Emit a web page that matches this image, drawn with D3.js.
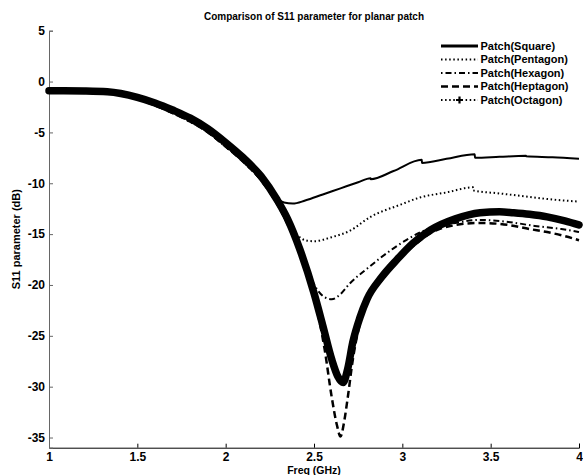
<!DOCTYPE html>
<html>
<head>
<meta charset="utf-8">
<script src="https://cdn.jsdelivr.net/npm/d3@7"></script>
<style>
  html, body { margin: 0; padding: 0; background: #fff; }
  svg { display: block; font-family: "Liberation Sans", Arial, sans-serif; }
</style>
</head>
<body>
<svg id="chart" width="583" height="475"></svg>
<script>
// ---------------- data ----------------
const seriesNames = ["Patch(Square)", "Patch(Pentagon)", "Patch(Hexagon)", "Patch(Heptagon)", "Patch(Octagon)"];

const squareF  = [1.0,1.2,1.33,1.5,1.6,1.7,1.8,1.9,2.0,2.1,2.2,2.29,2.33,2.38,2.45,2.55,2.65,2.75,2.82,2.821,2.95,3.11,3.111,3.25,3.41,3.411,3.55,3.7,3.701,3.85,4.0];
const squareDb = [-0.9,-0.93,-1.0,-1.55,-2.1,-2.8,-3.6,-4.65,-6.0,-7.5,-9.3,-11.5,-11.9,-12.0,-11.7,-11.1,-10.5,-9.9,-9.5,-9.6,-8.8,-7.7,-8.0,-7.6,-7.15,-7.5,-7.4,-7.3,-7.35,-7.45,-7.6];

const pentagonF  = [1.0,1.2,1.33,1.5,1.6,1.7,1.8,1.9,2.0,2.1,2.2,2.29,2.35,2.4,2.45,2.5,2.6,2.7,2.82,2.99,3.1,3.25,3.4,3.401,3.55,3.7,3.85,4.0];
const pentagonDb = [-0.9,-0.95,-1.05,-1.7,-2.35,-3.1,-3.95,-5.0,-6.4,-7.9,-9.7,-12.0,-13.9,-15.0,-15.6,-15.7,-15.3,-14.7,-13.3,-12.1,-11.4,-10.9,-10.4,-10.7,-11.0,-11.3,-11.6,-11.8];

const hexagonF  = [1.0,1.2,1.33,1.5,1.6,1.7,1.8,1.9,2.0,2.1,2.2,2.29,2.35,2.42,2.47,2.52,2.56,2.6,2.65,2.7,2.8,2.95,3.05,3.16,3.3,3.44,3.6,3.75,3.9,4.0];
const hexagonDb = [-0.9,-0.95,-1.05,-1.7,-2.35,-3.1,-3.95,-5.0,-6.4,-7.9,-9.7,-12.0,-14.0,-16.9,-18.9,-20.5,-21.2,-21.4,-20.9,-19.9,-18.4,-16.4,-15.3,-14.4,-13.9,-13.6,-13.8,-14.2,-14.5,-14.8];

const heptagonF  = [1.0,1.2,1.33,1.5,1.6,1.7,1.8,1.9,2.0,2.1,2.2,2.29,2.35,2.42,2.5,2.56,2.6,2.63,2.65,2.67,2.69,2.72,2.76,2.8,2.88,2.97,3.06,3.16,3.3,3.44,3.6,3.72,3.82,3.92,4.0];
const heptagonDb = [-0.9,-0.95,-1.05,-1.7,-2.35,-3.1,-3.95,-5.0,-6.4,-7.9,-9.7,-12.0,-14.0,-16.9,-21.2,-26.3,-31.0,-33.8,-34.9,-33.5,-31.2,-27.3,-23.8,-21.7,-19.6,-17.7,-16.2,-14.9,-14.1,-13.9,-14.1,-14.5,-14.8,-15.2,-15.6];

const octagonF  = [1.0,1.2,1.33,1.5,1.6,1.7,1.8,1.9,2.0,2.1,2.2,2.29,2.35,2.42,2.5,2.55,2.6,2.635,2.665,2.69,2.72,2.76,2.8,2.88,2.97,3.06,3.16,3.3,3.44,3.55,3.63,3.72,3.82,3.92,4.0];
const octagonDb = [-0.9,-0.93,-1.0,-1.55,-2.1,-2.8,-3.6,-4.65,-6.0,-7.5,-9.3,-11.6,-13.5,-16.5,-20.8,-24.0,-27.3,-29.0,-29.6,-28.3,-25.6,-23.2,-21.4,-19.3,-17.5,-15.9,-14.6,-13.5,-12.9,-12.8,-12.9,-13.05,-13.3,-13.7,-14.1];

const xTicks = [1, 1.5, 2, 2.5, 3, 3.5, 4];
const yTicks = [5, 0, -5, -10, -15, -20, -25, -30, -35];

const titleText = "Comparison of S11 parameter for planar patch";
const xLabel = "Freq (GHz)";
const yLabel = "S11 parameter (dB)";

// ---------------- layout ----------------
const svg = d3.select("#chart");
const mLeft = 49, mRight = 579, mTop = 30.7, mBottom = 447.7;

const x = d3.scaleLinear().domain([1, 4]).range([mLeft, mRight]);
const y = d3.scaleLinear().domain([-36, 5]).range([mBottom, mTop]);

// axes
const xAxis = d3.axisBottom(x).tickValues(xTicks).tickSize(-4).tickPadding(5)
  .tickFormat(d => String(d));
const gx = svg.append("g").attr("transform", `translate(0,${mBottom})`).call(xAxis);
gx.select(".domain").attr("stroke", "#000");
gx.selectAll(".tick line").attr("stroke", "#000");
gx.selectAll("text").attr("font-size", 12).attr("font-weight", "bold").attr("fill", "#000")
  .attr("font-family", "Liberation Sans, Arial, sans-serif");

const yAxis = d3.axisLeft(y).tickValues(yTicks).tickSize(-4).tickPadding(4)
  .tickFormat(d => String(d));
const gy = svg.append("g").attr("transform", `translate(${mLeft},0)`).call(yAxis);
gy.select(".domain").attr("stroke", "#666");
gy.selectAll(".tick line").attr("stroke", "#666");
gy.selectAll("text").attr("font-size", 12).attr("font-weight", "bold").attr("fill", "#000")
  .attr("font-family", "Liberation Sans, Arial, sans-serif");

// title and labels
svg.append("text").attr("x", (mLeft + mRight) / 2).attr("y", 20).attr("text-anchor", "middle")
  .attr("font-size", 10).attr("font-weight", "bold").text(titleText);
svg.append("text").attr("x", (mLeft + mRight) / 2).attr("y", 474).attr("text-anchor", "middle")
  .attr("font-size", 10.5).attr("font-weight", "bold").text(xLabel);
svg.append("text").attr("transform", `translate(16,${(mTop + mBottom) / 2}) rotate(-90)`)
  .attr("text-anchor", "middle").attr("dy", "0.35em")
  .attr("font-size", 11).attr("font-weight", "bold").text(yLabel);

// ---------------- series ----------------
const series = [
  { name: seriesNames[4], f: octagonF,  db: octagonDb,  width: 7.5, dash: null,        cap: "round" },
  { name: seriesNames[0], f: squareF,   db: squareDb,   width: 2,   dash: null,        cap: "butt" },
  { name: seriesNames[1], f: pentagonF, db: pentagonDb, width: 2,   dash: "1.5,2.6",   cap: "butt" },
  { name: seriesNames[2], f: hexagonF,  db: hexagonDb,  width: 2,   dash: "6,3,1.5,3", cap: "butt" },
  { name: seriesNames[3], f: heptagonF, db: heptagonDb, width: 2.5, dash: "7,4",       cap: "butt" }
];

const line = d3.line().x(d => x(d[0])).y(d => y(d[1])).curve(d3.curveMonotoneX);

series.forEach(s => {
  const pts = s.f.map((f, i) => [f, s.db[i]]);
  svg.append("path").datum(pts).attr("d", line)
    .attr("fill", "none").attr("stroke", "#000")
    .attr("stroke-width", s.width)
    .attr("stroke-linejoin", "round")
    .attr("stroke-linecap", s.cap)
    .attr("stroke-dasharray", s.dash);
});

// ---------------- legend ----------------
const legendStyles = [
  { width: 3,   dash: null },
  { width: 2,   dash: "1.5,2.6" },
  { width: 2,   dash: "1.5,3,6,3" },
  { width: 2.5, dash: "7,4" },
  { width: 2,   dash: "1.5,2.6", marker: true }
];
const lx0 = 441, lx1 = 478, ly0 = 46, lstep = 13.5;
const lg = svg.append("g");
seriesNames.forEach((name, i) => {
  const yy = ly0 + i * lstep;
  const st = legendStyles[i];
  lg.append("line").attr("x1", lx0).attr("x2", lx1).attr("y1", yy).attr("y2", yy)
    .attr("stroke", "#000").attr("stroke-width", st.width).attr("stroke-dasharray", st.dash);
  if (st.marker) {
    const cx = (lx0 + lx1) / 2;
    lg.append("path").attr("d", `M${cx - 3.5},${yy}H${cx + 3.5}M${cx},${yy - 3.5}V${yy + 3.5}`)
      .attr("stroke", "#000").attr("stroke-width", 2.2).attr("fill", "none");
  }
  lg.append("text").attr("x", 480.5).attr("y", yy).attr("dy", "0.35em")
    .attr("font-size", 11).attr("font-weight", "bold").text(name);
});
</script>
</body>
</html>
